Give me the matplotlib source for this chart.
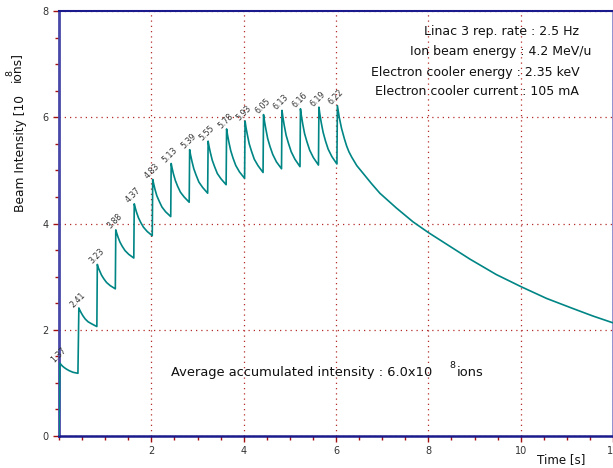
import matplotlib
matplotlib.use("Agg")
import matplotlib.pyplot as plt
from matplotlib.ticker import MultipleLocator, FixedLocator

# ---------------- data ----------------
inj_times = [0.02, 0.43, 0.83, 1.23, 1.63, 2.03, 2.43, 2.83, 3.23, 3.63,
             4.03, 4.43, 4.83, 5.23, 5.63, 6.03]
peak_values = [1.37, 2.41, 3.23, 3.88, 4.37, 4.83, 5.13, 5.39, 5.55, 5.78,
               5.93, 6.05, 6.13, 6.16, 6.19, 6.22]
peak_labels = ["1.37", "2.41", "3.23", "3.88", "4.37", "4.83", "5.13", "5.39",
               "5.55", "5.78", "5.93", "6.05", "6.13", "6.16", "6.19", "6.22"]
# time after each injection at which the decay values below are read
decay_dt = [0.02, 0.05, 0.09, 0.14, 0.20, 0.28, 0.39]
decay_values = [
    [1.35, 1.32, 1.29, 1.26, 1.23, 1.20, 1.18],
    [2.37, 2.32, 2.26, 2.20, 2.15, 2.11, 2.06],
    [3.17, 3.11, 3.03, 2.96, 2.89, 2.83, 2.77],
    [3.82, 3.74, 3.65, 3.57, 3.49, 3.42, 3.35],
    [4.30, 4.21, 4.11, 4.02, 3.93, 3.85, 3.77],
    [4.75, 4.64, 4.52, 4.42, 4.31, 4.22, 4.13],
    [5.04, 4.93, 4.81, 4.70, 4.59, 4.50, 4.40],
    [5.29, 5.17, 5.03, 4.91, 4.78, 4.68, 4.57],
    [5.45, 5.33, 5.19, 5.07, 4.94, 4.84, 4.73],
    [5.67, 5.53, 5.37, 5.23, 5.09, 4.97, 4.85],
    [5.81, 5.67, 5.50, 5.36, 5.21, 5.09, 4.96],
    [5.93, 5.78, 5.60, 5.45, 5.30, 5.16, 5.03],
    [6.00, 5.84, 5.66, 5.51, 5.35, 5.21, 5.07],
    [6.03, 5.87, 5.69, 5.54, 5.38, 5.24, 5.10],
    [6.06, 5.90, 5.72, 5.56, 5.40, 5.26, 5.12],
]
# free decay after the last injection
tail_t = [6.07, 6.12, 6.18, 6.23, 6.28, 6.34, 6.45, 6.59, 6.77, 6.95, 7.13,
          7.31, 7.49, 7.67, 8.00, 8.36, 8.90, 9.47, 10.01, 10.56, 11.13,
          11.56, 12.0]
tail_v = [6.00, 5.79, 5.60, 5.46, 5.35, 5.25, 5.09, 4.94, 4.75, 4.57, 4.43,
          4.29, 4.16, 4.03, 3.83, 3.63, 3.33, 3.04, 2.81, 2.59, 2.40, 2.26,
          2.13]

info_lines = ["Linac 3 rep. rate : 2.5 Hz",
              "Ion beam energy : 4.2 MeV/u",
              "Electron cooler energy : 2.35 keV",
              "Electron cooler current : 105 mA"]

# ---------------- build the series ----------------
t = [0.0]
v = [0.0]
for k, t0 in enumerate(inj_times):
    t.append(t0)
    v.append(peak_values[k])
    if k < len(decay_values):
        for dt, val in zip(decay_dt, decay_values[k]):
            t.append(t0 + dt)
            v.append(val)
t.extend(tail_t)
v.extend(tail_v)

plt.rcParams["font.family"] = ["DejaVu Sans"]

W, H = 613, 468
fig = plt.figure(figsize=(W / 100, H / 100), dpi=100)
fig.patch.set_facecolor("white")
ax = fig.add_axes([59 / W, 1 - 436 / H, 554 / W, 425 / H])
ax.set_xlim(0, 12)
ax.set_ylim(0, 8)

ax.plot(t, v, color="#008585", lw=1.2, solid_joinstyle="round", zorder=3)

for tx, pv, lab in zip(inj_times, peak_values, peak_labels):
    ax.annotate(lab, xy=(tx, pv), xytext=(-0.7, 6), textcoords="offset points",
                rotation=45, ha="center", va="center", fontsize=5.7,
                color="#333333", zorder=4)

# axes styling
ax.xaxis.set_major_locator(FixedLocator([2, 4, 6, 8, 10, 12]))
ax.xaxis.set_minor_locator(MultipleLocator(0.5))
ax.yaxis.set_major_locator(FixedLocator([0, 2, 4, 6, 8]))
ax.yaxis.set_minor_locator(MultipleLocator(0.5))
ax.tick_params(which="both", direction="out", color="#a01010",
               labelsize=7, labelcolor="#333333", width=1)
ax.tick_params(which="major", length=4)
ax.tick_params(which="minor", length=3)
ax.grid(True, which="major", color="#b52a2a", linestyle=(0, (1, 3.2)),
        linewidth=0.9)

ax.spines["left"].set_color("#4848a8")
ax.spines["left"].set_linewidth(2.0)
ax.spines["bottom"].set_color("#1a1a8c")
ax.spines["bottom"].set_linewidth(1.8)
ax.spines["top"].set_color("#1a1a8c")
ax.spines["top"].set_linewidth(1.5)
ax.spines["right"].set_color("#8888cc")
ax.spines["right"].set_linewidth(2.0)

# info text block (right-aligned lines)
info_x = [11.26, 11.54, 11.28, 11.26]
info_y = [7.62, 7.23, 6.85, 6.48]
for s, x, y in zip(info_lines, info_x, info_y):
    ax.text(x, y, s, ha="right", va="center", fontsize=9, color="#111111")

# average accumulated intensity text
yb = 1.13
t1 = ax.text(2.42, yb, "Average accumulated intensity : 6.0x10",
             ha="left", va="baseline", fontsize=9.4, color="#111111")
t2 = ax.annotate("8", xy=(1, yb), xycoords=(t1, "data"), xytext=(12.5, 5.8),
                 textcoords="offset points", ha="left", va="baseline",
                 fontsize=6.8, color="#111111")
ax.annotate("ions", xy=(1, yb), xycoords=(t2, "data"), xytext=(0.8, 0),
            textcoords="offset points", ha="left", va="baseline",
            fontsize=9.4, color="#111111")

# x label
fig.text(561 / W, 1 - 460 / H, "Time [s]", ha="center", va="center",
         fontsize=8.6, color="#111111")

# y label with superscript
y1 = fig.text(21 / W, 1 - 95 / H, "Beam Intensity [10", rotation=90,
              ha="center", va="top", fontsize=8.8, color="#111111")
ax.annotate("8", xy=(0.5, 1), xycoords=y1, xytext=(-8.0, 13.5),
            textcoords="offset points", rotation=90, ha="center",
            va="bottom", fontsize=6.8, color="#111111",
            annotation_clip=False)
ax.annotate("ions]", xy=(0.5, 1), xycoords=y1, xytext=(-3.6, 9.4),
            textcoords="offset points", rotation=90, ha="center",
            va="bottom", fontsize=8.8, color="#111111", annotation_clip=False)

fig.savefig("out.png", dpi=100)
